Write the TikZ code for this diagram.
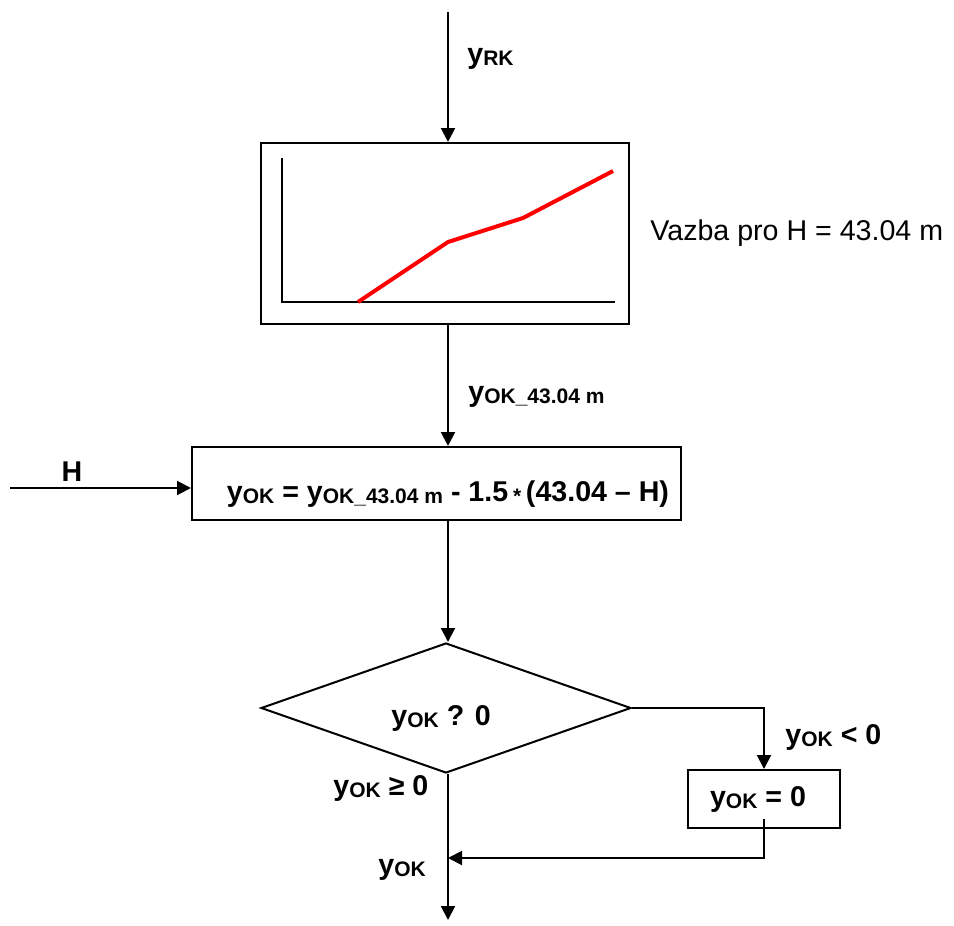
\documentclass[tikz,border=0pt]{standalone}
\usepackage{fontspec}
\setmainfont{Liberation Sans}
\usetikzlibrary{arrows.meta, positioning, calc, shapes.geometric}

\newcommand{\sub}[1]{\raisebox{-0.15ex}{\fontsize{10.5}{12}\selectfont #1}}

\begin{document}
\begin{tikzpicture}[x=0.5pt, y=-0.5pt,
    flow/.style={line width=1pt, -{Triangle[length=7pt,width=7pt]}},
    line/.style={line width=1pt},
    box/.style={draw, line width=1pt, rectangle, inner sep=0pt},
    lab/.style={font=\fontsize{14.3}{16}\selectfont\bfseries, inner sep=0pt},
    test/.style={draw, line width=1pt, diamond, aspect=2.85, inner sep=0pt,
        minimum width=185pt, minimum height=65pt}]
    \useasboundingbox (0,0) rectangle (954,926);
    % characteristic curve
    \coordinate (in) at (448,12);
    \node[box, minimum width=184pt, minimum height=90.5pt] (graph) at (445,233.5) {};
    \draw[flow] (in) -- (in |- graph.north);
    \node[lab, anchor=west] (yrk) at (467,59) {y\sub{RK}};
    \draw[line width=0.75pt] (282,158) -- (282,302) -- (615,302);
    \draw[red, line width=2pt] (358,302) -- (448,242) -- (523,218) -- (613,171);
    \node[font=\fontsize{14.3}{16}\selectfont, inner sep=0pt, anchor=west] (vazba) at (650,233) {Vazba pro H = 43.04 m};
    % correction for H
    \node[box, minimum width=244.5pt, minimum height=36.5pt] (formula) at (436.5,483.5) {};
    \draw[flow] (in |- graph.south) -- (in |- formula.north);
    \node[lab, anchor=west] (yok43) at (468,397) {y\sub{OK\_43.04 m}};
    \node[lab] (formtext) at (448,494) {y\sub{OK} = y\sub{OK\_43.04 m} - 1.5\,\sub{*}\,(43.04 – H)};
    \coordinate (hin) at (10,488);
    \draw[flow] (hin) -- (hin -| formula.west);
    \node[lab] (hlab) at (72,472) {H};
    % test of sign
    \node[test] (sign) at (446,708) {};
    \draw[flow] (in |- formula.south) -- (in |- sign.north);
    \node[lab, anchor=west] (signtext) at (391,718) {y\sub{OK} ? 0};
    \node[box, minimum width=76pt, minimum height=29pt, lab, inner sep=0pt] (zero) at (764,799) {\hspace{-6pt}y\sub{OK} = 0};
    \draw[flow] (sign.east) -| (zero.north);
    \node[lab, anchor=west] (neg) at (785,737) {y\sub{OK} < 0};
    \node[lab, anchor=west] (pos) at (333,788) {y\sub{OK} ≥ 0};
    % output
    \coordinate (out) at (448,920);
    \coordinate (merge) at (448,858);
    \coordinate (zout) at ([yshift=5pt]zero.south);
    \draw[flow] (in |- sign.south) -- (out);
    \draw[flow] (zout) |- (merge);
    \node[lab, anchor=west] (yout) at (378,870) {y\sub{OK}};
\end{tikzpicture}
\end{document}
